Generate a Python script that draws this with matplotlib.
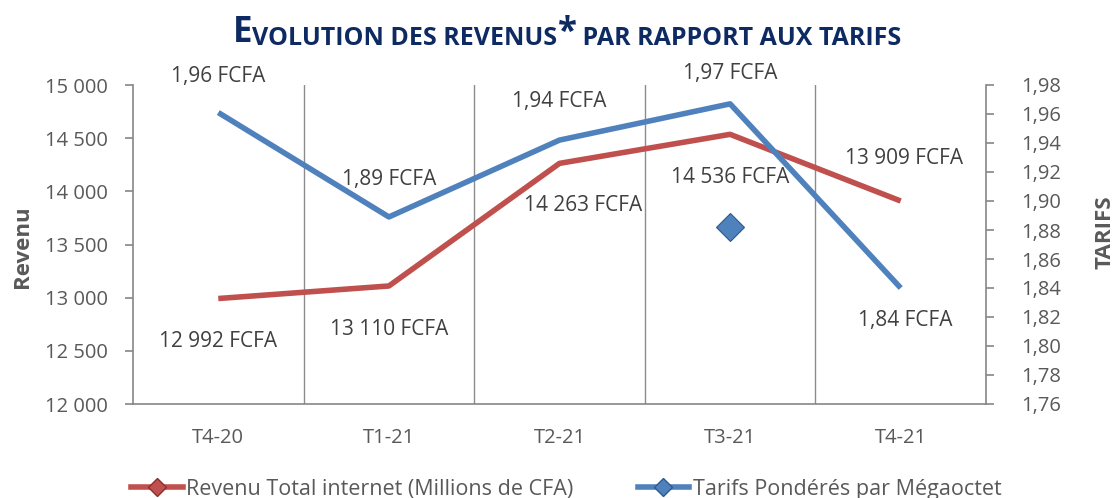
import numpy as np
import matplotlib.pyplot as plt
from matplotlib.ticker import FuncFormatter, MultipleLocator
from matplotlib.lines import Line2D

trimestres = ['T4-20', 'T1-21', 'T2-21', 'T3-21', 'T4-21']
revenus = [12992, 13110, 14263, 14536, 13909]
tarifs = [1.961, 1.889, 1.942, 1.967, 1.840]
# point isole visible sur le graphique d'origine
point_isole_x = [3]
point_isole_y = [1.882]

lbl_rev = ['12 992 FCFA', '13 110 FCFA', '14 263 FCFA', '14 536 FCFA', '13 909 FCFA']
lbl_tar = ['1,96 FCFA', '1,89 FCFA', '1,94 FCFA', '1,97 FCFA', '1,84 FCFA']

rouge = '#C0504D'
bleu = '#4F81BD'
gris = '#595959'
fonte = 'Open Sans'

plt.rcParams['font.family'] = [fonte, 'DejaVu Sans']

fig = plt.figure(figsize=(11.18, 4.98), dpi=100)
ax = fig.add_axes([133/1118, 1-404/498, (986-133)/1118, (404-85)/498])
ax2 = ax.twinx()

x = np.arange(len(trimestres))
ax.plot(x, revenus, color=rouge, lw=4, solid_capstyle='butt', zorder=3)
ax2.plot(x, tarifs, color=bleu, lw=4, solid_capstyle='butt', zorder=3)
ax2.plot(point_isole_x, point_isole_y, 'D', color=bleu, ms=14, mec='#2E5A8C', mew=0.8)

ax.set_xlim(-0.5, 4.5)
ax.set_ylim(12000, 15000)
ax2.set_ylim(1.76, 1.98)
ax.yaxis.set_major_locator(MultipleLocator(500))
ax2.yaxis.set_major_locator(MultipleLocator(0.02))
ax.yaxis.set_major_formatter(FuncFormatter(lambda v, p: f'{int(v):,}'.replace(',', ' ')))
ax2.yaxis.set_major_formatter(FuncFormatter(lambda v, p: f'{v:.2f}'.replace('.', ',')))
ax.set_xticks(x)
ax.set_xticklabels(trimestres)

for v in [0.5, 1.5, 2.5, 3.5]:
    ax.axvline(v, color='#8C8C8C', lw=1, zorder=1)

for a in (ax, ax2):
    a.spines['top'].set_visible(False)
    for s in ['left', 'right', 'bottom']:
        a.spines[s].set_color('#868686')
        a.spines[s].set_linewidth(1.2)
    a.tick_params(colors='#868686', labelcolor=gris, labelsize=14.5, length=6, width=1.2)
ax.tick_params(axis='x', length=0, pad=17)
ax.tick_params(axis='y', pad=12)
ax2.tick_params(axis='y', pad=19)
ax.spines['right'].set_visible(False)
ax2.spines['left'].set_visible(False)
ax2.spines['bottom'].set_visible(False)

fig.text(23/1118, 1-247/498, 'Revenu', rotation=90, ha='center', va='center',
         fontsize=16, fontweight='bold', color=gris)
fig.text(1105/1118, 1-232/498, 'TARIFS', rotation=90, ha='center', va='center',
         fontsize=16, fontweight='bold', color=gris)

# etiquettes de donnees
off_rev = [(0, -43), (0, -44), (24, -42), (0, -43), (3, 43)]
off_tar = [(0, 36), (0, 37), (0, 39), (0, 30), (5, -33)]
for i in x:
    ax.annotate(lbl_rev[i], (i, revenus[i]), xytext=off_rev[i], textcoords='offset pixels',
                ha='center', va='center', fontsize=15, color='#404040')
    ax2.annotate(lbl_tar[i], (i, tarifs[i]), xytext=off_tar[i], textcoords='offset pixels',
                 ha='center', va='center', fontsize=15, color='#404040')

# titre en petites capitales
navy = '#0E2A62'
morceaux = [('E', 25), ('VOLUTION DES REVENUS', 18), ('*', 25), (' PAR RAPPORT AUX TARIFS', 18)]
t = fig.text(233/1118, 1-42/498, morceaux[0][0], fontsize=morceaux[0][1], fontweight='bold',
             color=navy, va='baseline', ha='left')
for txt, fs in morceaux[1:]:
    t = fig.add_artist(plt.Annotation(txt, xy=(1, 0), xycoords=t, va='bottom', ha='left',
                                      fontsize=fs, fontweight='bold', color=navy,
                                      annotation_clip=False))

# legende
poignees = [Line2D([], [], color=rouge, lw=4, marker='D', ms=9, mfc=rouge, mec='#8B2F2C'),
            Line2D([], [], color=bleu, lw=4, marker='D', ms=9, mfc=bleu, mec='#2E5A8C')]
fig.legend(poignees, ['Revenu Total internet (Millions de CFA)', 'Tarifs Pondérés par Mégaoctet'],
           loc='center', bbox_to_anchor=(566/1118, 1-489/498), ncol=2, frameon=False,
           fontsize=15.5, handlelength=2.4, handletextpad=0.15, columnspacing=3.0,
           labelcolor=gris)

fig.savefig('out.png', dpi=100)
